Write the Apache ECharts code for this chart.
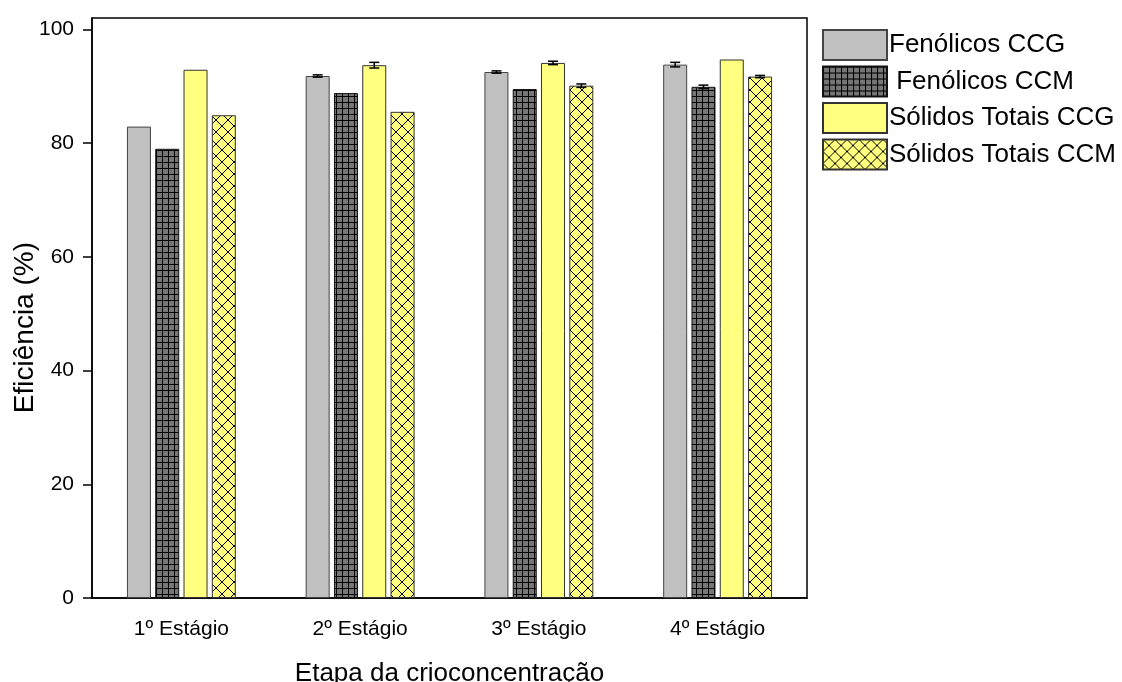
<!DOCTYPE html>
<html>
<head>
<meta charset="utf-8">
<script src="https://cdn.jsdelivr.net/npm/echarts@6/dist/echarts.min.js"></script>
<style>
  html, body { margin: 0; padding: 0; background: #fff; }
  #chart { width: 1122px; height: 682px; }
</style>
</head>
<body>
<div id="chart"></div>
<script>
// Stages of the cryoconcentration process
const categories = ['1º Estágio', '2º Estágio', '3º Estágio', '4º Estágio'];

// Efficiency (%) per series
const seriesNames = ['Fenólicos CCG', ' Fenólicos CCM', 'Sólidos Totais CCG', 'Sólidos Totais CCM'];
const fenolicosCCG = [82.9, 91.8, 92.5, 93.8];
const fenolicosCCM = [79.0, 88.8, 89.5, 89.9];
const solidosCCG   = [92.9, 93.7, 94.1, 94.7];
const solidosCCM   = [84.9, 85.5, 90.1, 91.7];

// Standard deviations
const errFenolicosCCG = [0, 0.2, 0.2, 0.4];
const errFenolicosCCM = [0, 0, 0, 0.3];
const errSolidosCCG   = [0, 0.5, 0.3, 0];
const errSolidosCCM   = [0, 0, 0.3, 0.2];

const yTicks = [0, 20, 40, 60, 80, 100];

const values = [fenolicosCCG, fenolicosCCM, solidosCCG, solidosCCM];
const errors = [errFenolicosCCG, errFenolicosCCM, errSolidosCCG, errSolidosCCM];

// Fill patterns
function gridPattern() {
  const c = document.createElement('canvas');
  c.width = 6; c.height = 6;
  const g = c.getContext('2d');
  g.fillStyle = '#767676';
  g.fillRect(0, 0, 6, 6);
  g.fillStyle = '#000';
  g.fillRect(0, 0, 6, 1);
  g.fillRect(0, 0, 1, 6);
  return { image: c, repeat: 'repeat' };
}
function crossPattern() {
  const s = 12;
  const c = document.createElement('canvas');
  c.width = s; c.height = s;
  const g = c.getContext('2d');
  g.fillStyle = '#ffff80';
  g.fillRect(0, 0, s, s);
  g.strokeStyle = '#000';
  g.lineWidth = 1;
  g.beginPath();
  g.moveTo(0, 0); g.lineTo(s, s);
  g.moveTo(s, 0); g.lineTo(0, s);
  g.stroke();
  return { image: c, repeat: 'repeat' };
}

const fills = ['#c0c0c0', gridPattern(), '#ffff80', crossPattern()];
const borders = ['#444', '#111', '#333', '#333'];

const FONT = '"Liberation Sans", Arial, sans-serif';
const BAR_W = 24;
const BAR_GAP_PX = 4.3;

const chart = echarts.init(document.getElementById('chart'), null, { renderer: 'canvas' });

const barSeries = seriesNames.map((name, k) => ({
  name: name,
  type: 'bar',
  data: values[k],
  barWidth: BAR_W,
  barGap: (BAR_GAP_PX / BAR_W * 100).toFixed(1) + '%',
  itemStyle: { color: fills[k], borderColor: borders[k], borderWidth: 1 },
  emphasis: { disabled: true },
  z: 2
}));

// Error bars drawn on top of each bar
const errData = [];
for (let k = 0; k < 4; k++) {
  for (let i = 0; i < categories.length; i++) {
    if (errors[k][i] > 0) errData.push([i, values[k][i], errors[k][i], k]);
  }
}
const errSeries = {
  type: 'custom',
  name: 'err',
  data: errData,
  z: 5,
  silent: true,
  encode: { x: 0, y: 1 },
  renderItem: function (params, api) {
    const i = api.value(0), v = api.value(1), e = api.value(2), k = api.value(3);
    const offset = (k - 1.5) * (BAR_W + BAR_GAP_PX);
    const top = api.coord([i, v + e]);
    const bot = api.coord([i, v - e]);
    const x = top[0] + offset;
    const half = 5;
    const style = { stroke: '#000', lineWidth: 1.5 };
    return {
      type: 'group',
      children: [
        { type: 'line', shape: { x1: x, y1: top[1], x2: x, y2: bot[1] }, style },
        { type: 'line', shape: { x1: x - half, y1: top[1], x2: x + half, y2: top[1] }, style },
        { type: 'line', shape: { x1: x - half, y1: bot[1], x2: x + half, y2: bot[1] }, style }
      ]
    };
  }
};

chart.setOption({
  animation: false,
  backgroundColor: '#fff',
  grid: {
    left: 92, right: 315, top: 18, bottom: 84,
    outerBoundsMode: 'none',
    containLabel: false,
    show: true, borderColor: '#000', borderWidth: 1.5, backgroundColor: 'transparent'
  },
  legend: {
    data: seriesNames,
    orient: 'vertical',
    left: 822, top: 29,
    padding: 0,
    itemWidth: 64, itemHeight: 30, itemGap: 4.5,
    icon: 'rect',
    textStyle: { fontFamily: FONT, fontSize: 26, lineHeight: 30, color: '#000', padding: [0, 0, 0, -3] },
    selectedMode: false
  },
  graphic: [{
    type: 'text',
    left: 11, top: 242,
    rotation: Math.PI / 2,
    style: {
      text: 'Eficiência (%)',
      font: '28px "Liberation Sans", Arial, sans-serif',
      fill: '#000'
    }
  }],
  xAxis: {
    type: 'category',
    data: categories,
    name: 'Etapa da crioconcentração',
    nameLocation: 'middle',
    nameGap: 63,
    nameTextStyle: { fontFamily: FONT, fontSize: 26, color: '#000' },
    axisLine: { lineStyle: { color: '#000', width: 1.5 } },
    axisTick: { alignWithLabel: true, length: 10, lineStyle: { color: '#000', width: 1.5 } },
    axisLabel: { fontFamily: FONT, fontSize: 21, color: '#000', margin: 21 },
    splitLine: { show: false }
  },
  yAxis: {
    type: 'value',
    min: 0, max: 102, interval: 20,
    axisLine: { show: true, lineStyle: { color: '#000', width: 1.5 } },
    axisTick: { show: true, length: 9, customValues: yTicks, lineStyle: { color: '#000', width: 1.5 } },
    axisLabel: { fontFamily: FONT, fontSize: 21, color: '#000', margin: 18, customValues: yTicks },
    splitLine: { show: false }
  },
  series: barSeries.concat([errSeries])
});
</script>
</body>
</html>
